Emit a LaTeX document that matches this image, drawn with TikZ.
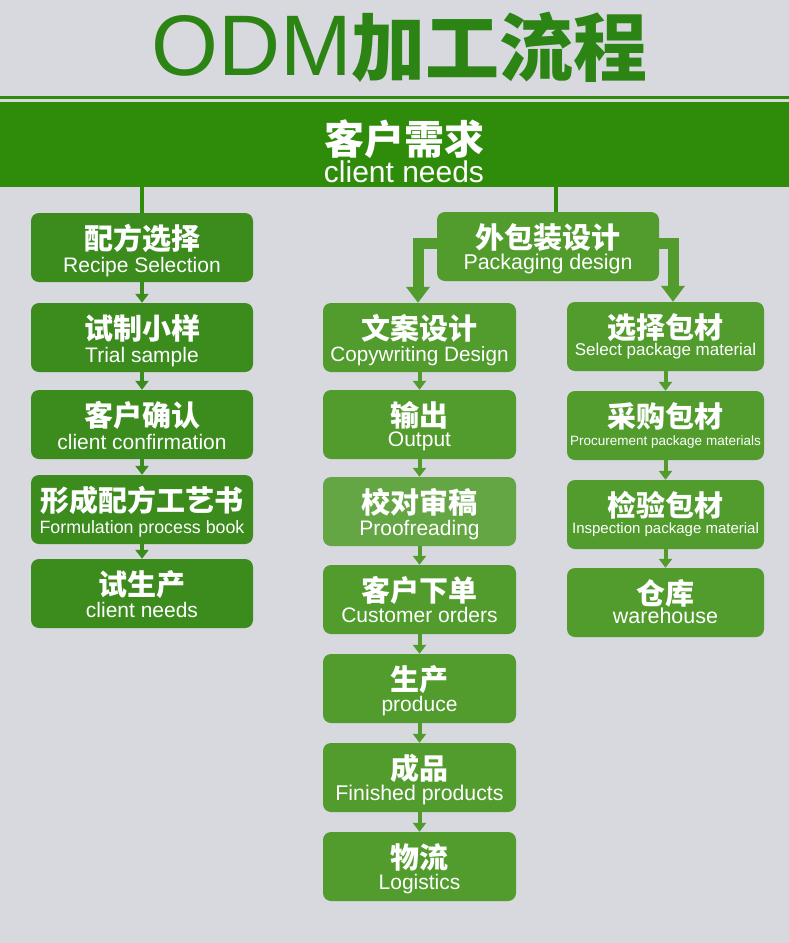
\documentclass[tikz,border=0pt]{standalone}
\usepackage{fontspec}
\setmainfont{Liberation Sans}
\newfontfamily\cjk{Noto Sans CJK SC}
\usetikzlibrary{arrows.meta}
\definecolor{bgc}{HTML}{D8D8DF}
\definecolor{bandg}{HTML}{2F8B0A}
\definecolor{titleg}{HTML}{2C8414}
\definecolor{leftg}{HTML}{3B8B1D}
\definecolor{midg}{HTML}{519C2D}
\definecolor{proofg}{HTML}{64A644}
\tikzset{
  box/.style={rectangle, rounded corners=8pt, minimum height=69pt, inner sep=0pt, draw=none},
  lbox/.style={fill=leftg},
  mbox/.style={fill=midg},
  pbox/.style={fill=proofg},
  cjkt/.style={text=white, font=\cjk\bfseries\fontsize{29}{29}\selectfont, inner sep=0pt},
  ent/.style={text=white, inner sep=0pt, anchor=base},
  smallarr/.style={line width=4pt, -{Triangle[width=13pt,length=9pt]}},
  bigarr/.style={line width=11pt, line join=miter, draw=midg, -{Triangle[width=23pt,length=16pt]}},
  link/.style={line width=4pt},
}
% name, x center, y top, width, fill style, cjk, english, en size, en baseline offset
\newcommand\flowbox[9]{%
  \node[box,#5,minimum width=#4pt] (#1) at (#2,{#3+34.5}) {};
  \node[cjkt] (#1c) at (#2,{#3+25.5}) {#6};
  \node[ent] (#1e) at (#2,{#3+#9}) {\fontsize{#8}{#8}\selectfont #7};
}
\begin{document}
\begin{tikzpicture}[x=1pt,y=-1pt]
\fill[bgc] (0,0) rectangle (789,943);
\useasboundingbox (0,0) rectangle (789,943);
% title
\node[anchor=base west, inner sep=0pt, text=titleg] (title) at (151,75)
  {\fontsize{86}{86}\selectfont ODM{\cjk\bfseries\fontsize{74}{74}\selectfont 加工流程}};
% thin line and band
\fill[bandg] (0,96) rectangle (789,98.5);
\node[fill=bandg, minimum width=789pt, minimum height=85pt, inner sep=0pt, anchor=north west] (band) at (0,102) {};
\node[text=white, inner sep=0pt, font=\cjk\bfseries\fontsize{40}{40}\selectfont] (bandc) at (404,139.5) {客户需求};
\node[ent] (bande) at (404,182) {\fontsize{30}{30}\selectfont client needs};
% left column
\flowbox{l1}{142}{213}{222}{lbox}{配方选择}{Recipe Selection}{21}{59}
\flowbox{l2}{142}{303}{222}{lbox}{试制小样}{Trial sample}{21}{59}
\flowbox{l3}{142}{390}{222}{lbox}{客户确认}{client confirmation}{21}{59}
\flowbox{l4}{142}{475}{222}{lbox}{形成配方工艺书}{Formulation process book}{17.8}{58}
\flowbox{l5}{142}{559}{222}{lbox}{试生产}{client needs}{21}{58}
% packaging
\flowbox{pk}{548}{212}{222}{mbox}{外包装设计}{Packaging design}{21.4}{57}
% middle column
\flowbox{m1}{419.5}{303}{193}{mbox}{文案设计}{Copywriting Design}{20.7}{58}
\flowbox{m2}{419.5}{390}{193}{mbox}{输出}{Output}{21}{56}
\flowbox{m3}{419.5}{477}{193}{pbox}{校对审稿}{Proofreading}{21}{58}
\flowbox{m4}{419.5}{565}{193}{mbox}{客户下单}{Customer orders}{21}{57}
\flowbox{m5}{419.5}{654}{193}{mbox}{生产}{produce}{21}{57}
\flowbox{m6}{419.5}{743}{193}{mbox}{成品}{Finished products}{21.3}{57}
\flowbox{m7}{419.5}{832}{193}{mbox}{物流}{Logistics}{21}{57}
% right column
\flowbox{r1}{665.5}{302}{197}{mbox}{选择包材}{Select package material}{17}{53}
\flowbox{r2}{665.5}{391}{197}{mbox}{采购包材}{Procurement package materials}{13.5}{54}
\flowbox{r3}{665.5}{480}{197}{mbox}{检验包材}{Inspection package material}{15}{53}
\flowbox{r4}{665.5}{568}{197}{mbox}{仓库}{warehouse}{21.5}{55}
% connectors from band
\coordinate (pkt) at ([xshift=8pt]pk.north);
\draw[link, draw=bandg] (band.south -| l1.north) -- (l1.north);
\draw[link, draw=bandg] (band.south -| pkt) -- (pkt);
% big arrows
\draw[bigarr] ([yshift=3.5pt]pk.west) -| ([xshift=-1.5pt]m1.north);
\draw[bigarr] ([yshift=3.5pt]pk.east) -| ([xshift=7.5pt]r1.north);
% small arrows
\foreach \a/\b in {l1/l2,l2/l3,l3/l4,l4/l5}
  \draw[smallarr, draw=leftg] (\a.south) -- (\b.north);
\foreach \a/\b in {m1/m2,m2/m3,m3/m4,m4/m5,m5/m6,m6/m7,r1/r2,r2/r3,r3/r4}
  \draw[smallarr, draw=midg] (\a.south) -- (\b.north);
\end{tikzpicture}
\end{document}
